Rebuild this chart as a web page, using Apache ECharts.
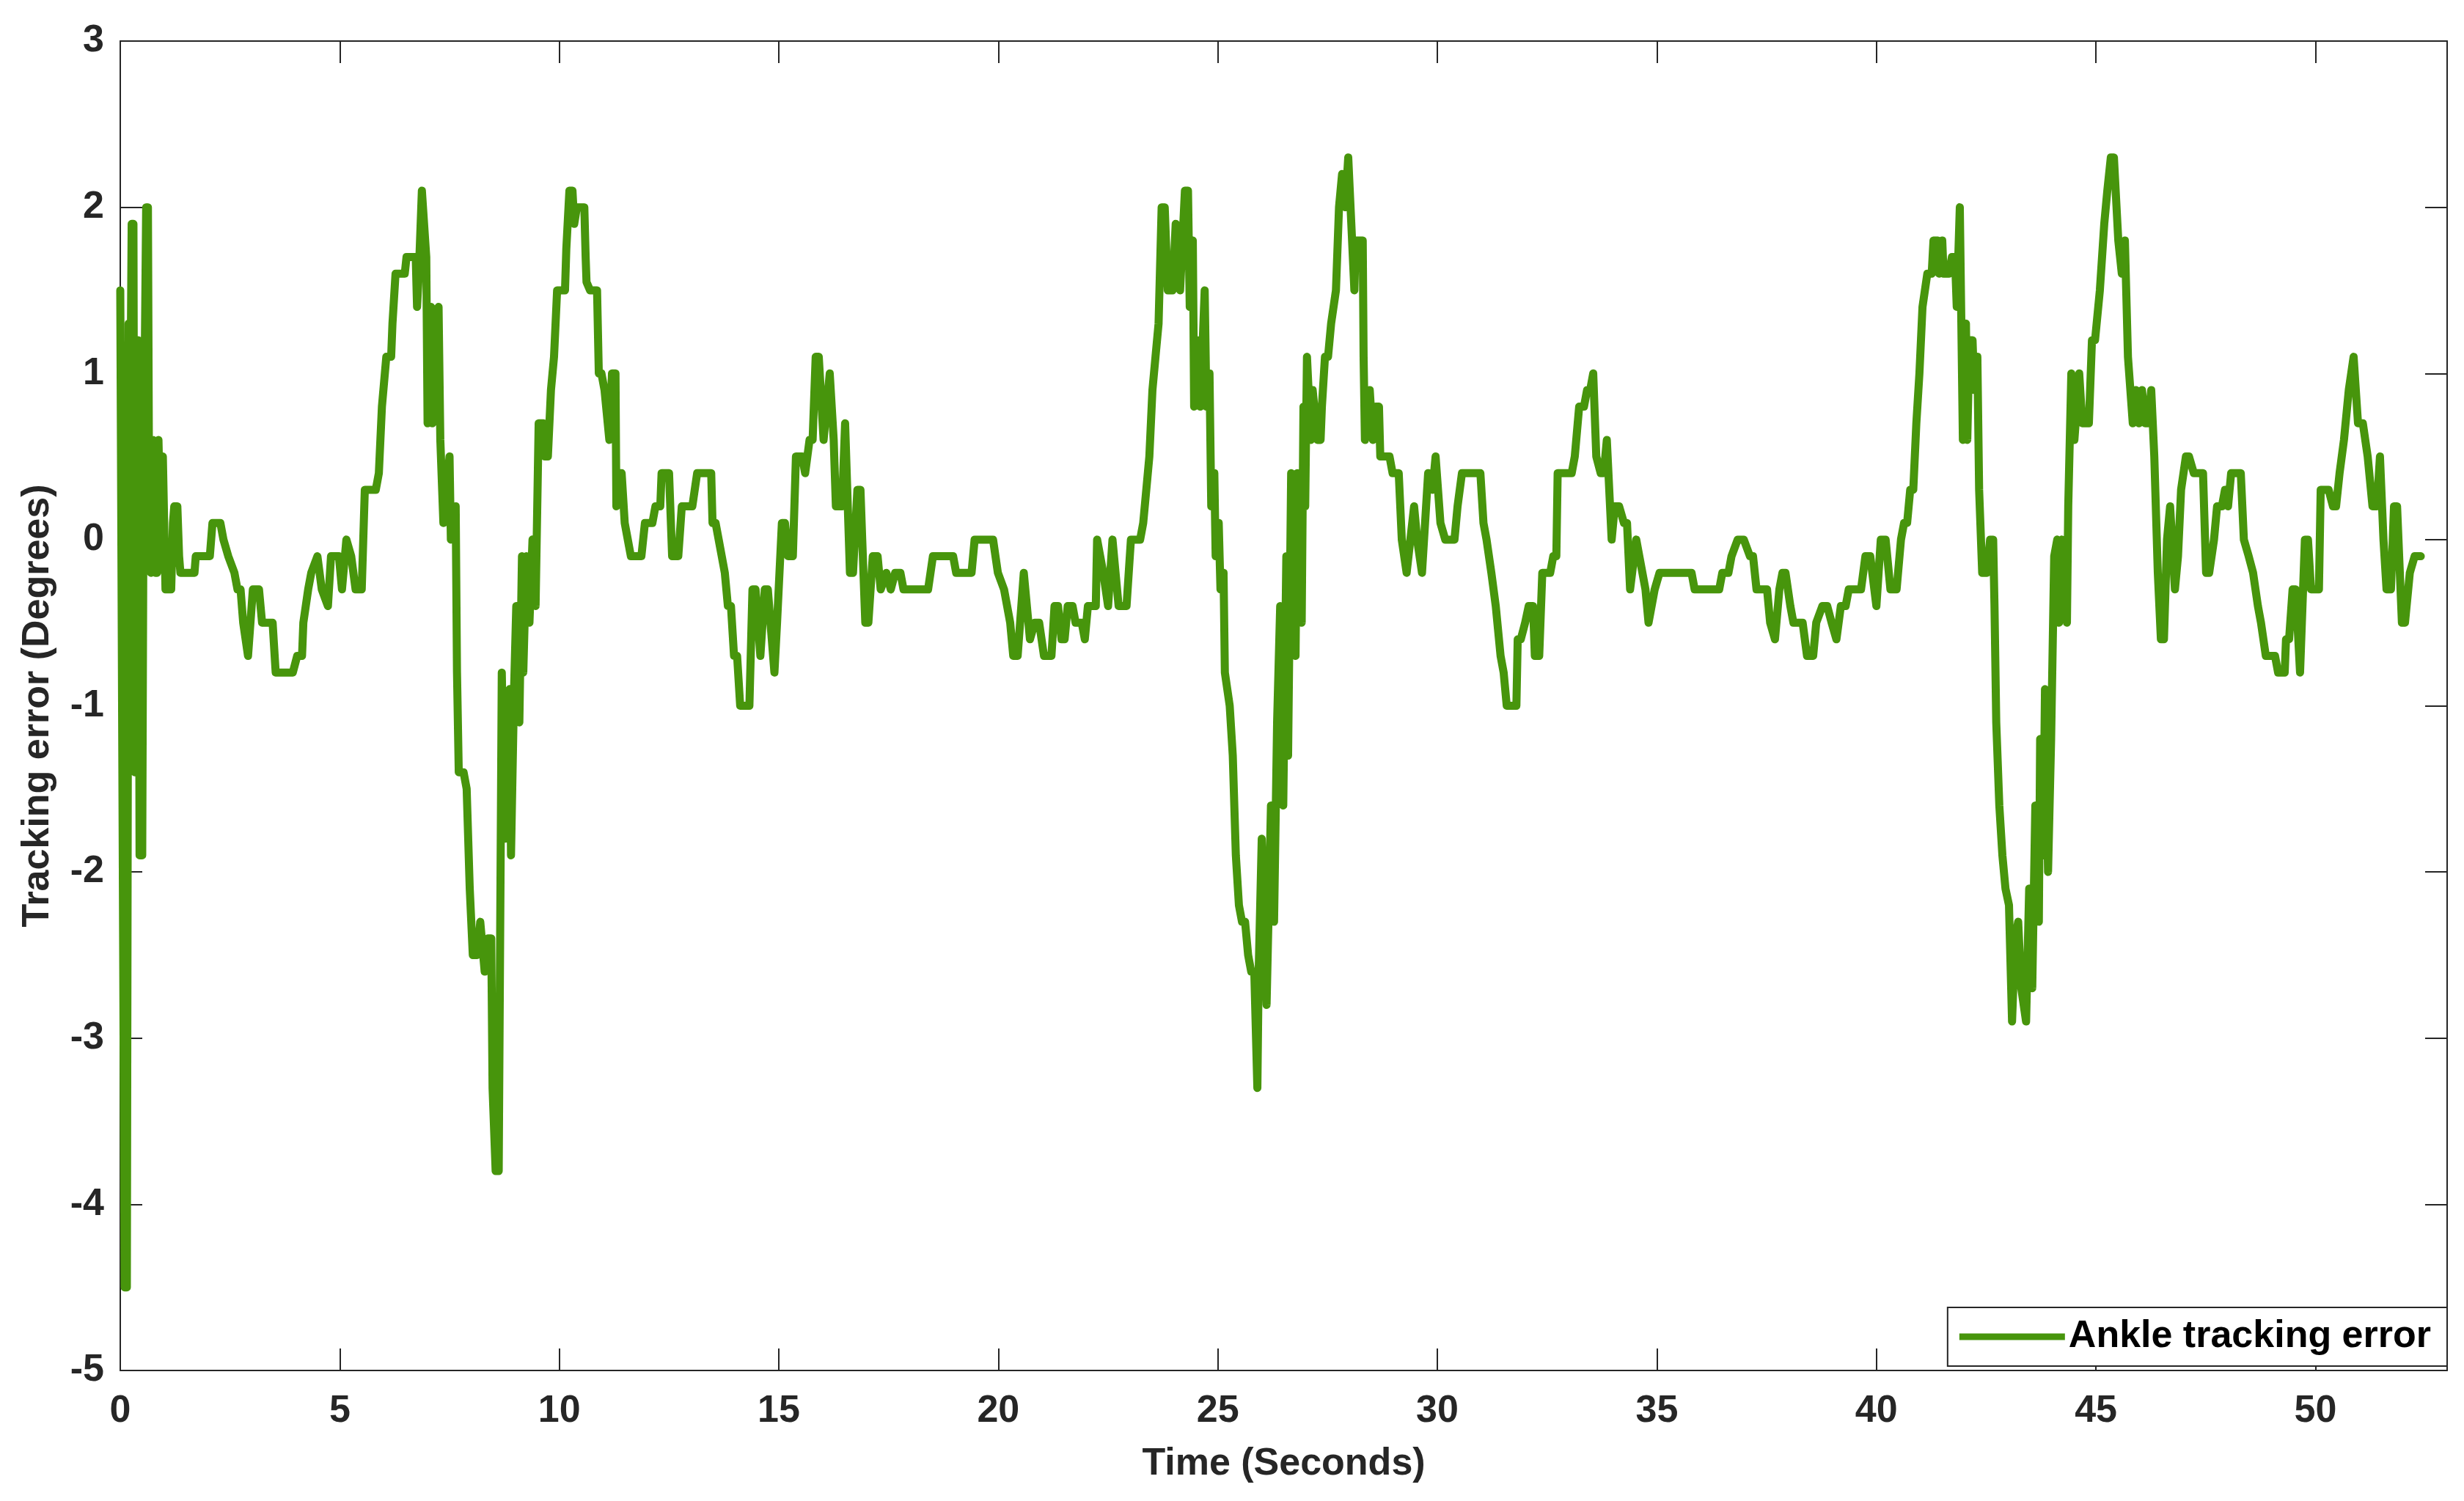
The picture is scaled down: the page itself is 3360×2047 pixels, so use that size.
<!DOCTYPE html>
<html>
<head>
<meta charset="utf-8">
<title>Ankle tracking error</title>
<script src="https://cdn.jsdelivr.net/npm/echarts@6/dist/echarts.min.js"></script>
<style>
  html, body { margin: 0; padding: 0; background: #fff; }
  #chart { width: 3360px; height: 2047px; }
</style>
</head>
<body>
<div id="chart"></div>
<script>
// time (s) and tracking error (deg)
var timeSec = [
  0, 0.03, 0.1, 0.15, 0.19, 0.22, 0.26, 0.3, 0.33, 0.37, 0.41, 0.44, 0.5, 0.53, 0.59, 0.63, 0.66, 0.7, 0.74, 0.78,
  0.8, 0.84, 0.87, 0.9, 0.93, 0.97, 1.0, 1.03, 1.16, 1.2, 1.23, 1.3, 1.34, 1.37, 1.69, 1.72, 2.04, 2.1, 2.28, 2.35,
  2.46, 2.6, 2.67, 2.74, 2.8, 2.91, 3.02, 3.16, 3.23, 3.33, 3.47, 3.54, 3.93, 4.03, 4.14, 4.17, 4.28, 4.35, 4.49, 4.59,
  4.73, 4.8, 4.98, 5.05, 5.15, 5.26, 5.36, 5.5, 5.57, 5.82, 5.89, 5.96, 6.06, 6.17, 6.2, 6.27, 6.48, 6.52, 6.73, 6.76,
  6.8, 6.87, 6.9, 6.97, 7.0, 7.08, 7.11, 7.25, 7.29, 7.36, 7.5, 7.53, 7.64, 7.67, 7.71, 7.82, 7.89, 7.96, 8.03, 8.13,
  8.2, 8.3, 8.38, 8.45, 8.48, 8.55, 8.62, 8.69, 8.76, 8.87, 8.9, 8.97, 9.02, 9.06, 9.09, 9.15, 9.18, 9.25, 9.32, 9.39,
  9.46, 9.53, 9.64, 9.67, 9.74, 9.81, 9.88, 9.95, 10.13, 10.16, 10.23, 10.3, 10.34, 10.4, 10.57, 10.6, 10.62, 10.7, 10.86, 10.9,
  10.96, 11.03, 11.14, 11.2, 11.28, 11.3, 11.35, 11.42, 11.49, 11.56, 11.63, 11.87, 11.95, 12.12, 12.19, 12.3, 12.33, 12.5, 12.57, 12.71,
  12.79, 13.03, 13.14, 13.46, 13.49, 13.56, 13.63, 13.7, 13.77, 13.84, 13.91, 13.98, 14.05, 14.12, 14.33, 14.37, 14.4, 14.47, 14.58, 14.68,
  14.75, 14.9, 14.96, 15.07, 15.14, 15.21, 15.32, 15.39, 15.53, 15.6, 15.7, 15.77, 15.84, 15.91, 16.02, 16.16, 16.25, 16.3, 16.44, 16.51,
  16.62, 16.69, 16.79, 16.86, 16.9, 16.97, 17.04, 17.14, 17.25, 17.32, 17.45, 17.55, 17.65, 17.77, 17.84, 18.4, 18.51, 18.97, 19.04, 19.39,
  19.46, 19.88, 19.99, 20.13, 20.2, 20.27, 20.34, 20.44, 20.58, 20.72, 20.83, 20.93, 21.04, 21.21, 21.28, 21.36, 21.44, 21.51, 21.58, 21.69,
  21.76, 21.9, 21.97, 22.04, 22.22, 22.25, 22.32, 22.39, 22.5, 22.6, 22.67, 22.74, 22.92, 23.02, 23.23, 23.3, 23.37, 23.44, 23.51, 23.58,
  23.65, 23.72, 23.79, 23.86, 23.97, 24.04, 24.14, 24.25, 24.32, 24.36, 24.43, 24.46, 24.57, 24.6, 24.7, 24.74, 24.81, 24.85, 24.92, 24.95,
  25.02, 25.06, 25.13, 25.16, 25.27, 25.34, 25.41, 25.48, 25.55, 25.62, 25.69, 25.76, 25.83, 25.9, 25.93, 26.0, 26.11, 26.21, 26.28, 26.35,
  26.42, 26.49, 26.56, 26.6, 26.67, 26.77, 26.81, 26.91, 26.95, 26.99, 27.03, 27.12, 27.16, 27.27, 27.34, 27.37, 27.44, 27.51, 27.58, 27.69,
  27.76, 27.83, 27.9, 27.97, 28.04, 28.11, 28.14, 28.3, 28.32, 28.35, 28.46, 28.53, 28.6, 28.67, 28.7, 28.91, 28.98, 29.12, 29.19, 29.3,
  29.47, 29.54, 29.65, 29.79, 29.89, 29.96, 30.07, 30.18, 30.39, 30.46, 30.56, 30.98, 31.05, 31.12, 31.23, 31.33, 31.44, 31.51, 31.58, 31.8,
  31.83, 31.9, 32.0, 32.08, 32.18, 32.22, 32.32, 32.39, 32.57, 32.64, 32.71, 32.74, 33.06, 33.13, 33.23, 33.34, 33.41, 33.48, 33.55, 33.62,
  33.72, 33.79, 33.86, 33.97, 34.04, 34.14, 34.25, 34.32, 34.39, 34.53, 34.6, 34.74, 34.81, 34.95, 35.06, 35.79, 35.86, 36.42, 36.49, 36.63,
  36.7, 36.84, 36.98, 37.12, 37.19, 37.27, 37.51, 37.58, 37.69, 37.79, 37.86, 37.93, 38.04, 38.11, 38.32, 38.42, 38.56, 38.63, 38.77, 38.88,
  38.98, 39.09, 39.19, 39.3, 39.37, 39.65, 39.75, 39.86, 40.0, 40.1, 40.21, 40.32, 40.46, 40.56, 40.63, 40.7, 40.77, 40.84, 40.91, 40.98,
  41.05, 41.16, 41.26, 41.3, 41.4, 41.43, 41.5, 41.53, 41.65, 41.72, 41.79, 41.83, 41.9, 41.97, 42.04, 42.07, 42.12, 42.19, 42.23, 42.3,
  42.34, 42.37, 42.41, 42.52, 42.59, 42.66, 42.69, 42.73, 42.8, 42.87, 42.94, 43.02, 43.09, 43.16, 43.23, 43.3, 43.41, 43.48, 43.55, 43.62,
  43.7, 43.73, 43.8, 43.84, 43.91, 43.98, 44.05, 44.12, 44.16, 44.23, 44.34, 44.37, 44.44, 44.51, 44.62, 44.69, 44.84, 44.91, 44.98, 45.09,
  45.19, 45.26, 45.34, 45.41, 45.51, 45.59, 45.66, 45.73, 45.84, 45.91, 45.98, 46.05, 46.12, 46.19, 46.26, 46.33, 46.41, 46.48, 46.55, 46.62,
  46.69, 46.8, 46.87, 46.94, 47.05, 47.12, 47.23, 47.44, 47.51, 47.58, 47.69, 47.76, 47.87, 47.94, 48.01, 48.08, 48.3, 48.37, 48.48, 48.58,
  48.69, 48.76, 48.87, 49.08, 49.15, 49.3, 49.33, 49.4, 49.48, 49.55, 49.65, 49.76, 49.83, 49.9, 50.08, 50.12, 50.3, 50.4, 50.47, 50.55,
  50.65, 50.76, 50.87, 50.97, 51.08, 51.19, 51.3, 51.4, 51.47, 51.55, 51.62, 51.72, 51.79, 51.86, 51.97, 52.04, 52.15, 52.26, 52.4
];
var errDeg = [
  1.5, 1.5, -4.5, -4.5, 1.3, 0.4, 1.9, 1.9, -1.4, 0.6, 1.2, -1.9, -1.9, 0.3, 2.0, 2.0, 0.0, -0.2, 0.6, 0.5,
  -0.2, -0.2, 0.6, 0.6, -0.1, 0.5, 0.5, -0.3, -0.3, 0.1, 0.2, 0.2, -0.1, -0.2, -0.2, -0.1, -0.1, 0.1, 0.1, 0,
  -0.1, -0.2, -0.3, -0.3, -0.5, -0.7, -0.3, -0.3, -0.5, -0.5, -0.5, -0.8, -0.8, -0.7, -0.7, -0.5, -0.3, -0.2, -0.1, -0.3,
  -0.4, -0.1, -0.1, -0.3, 0, -0.1, -0.3, -0.3, 0.3, 0.3, 0.4, 0.8, 1.1, 1.1, 1.3, 1.6, 1.6, 1.7, 1.7, 1.4,
  1.6, 2.1, 2.1, 1.7, 0.7, 1.4, 0.7, 1.4, 0.6, 0.1, 0.5, 0, 0.2, -0.8, -1.4, -1.4, -1.5, -2.1, -2.5, -2.5,
  -2.3, -2.6, -2.4, -2.4, -3.3, -3.8, -3.8, -0.8, -1.8, -0.9, -1.9, -0.9, -0.4, -0.4, -1.1, -0.1, -0.8, -0.1, -0.5, 0,
  -0.4, 0.7, 0.7, 0.5, 0.5, 0.9, 1.1, 1.5, 1.5, 1.75, 2.1, 2.1, 1.9, 2.0, 2.0, 1.7, 1.55, 1.5, 1.5, 1.0,
  1.0, 0.9, 0.6, 1.0, 1.0, 0.2, 0.4, 0.4, 0.1, 0, -0.1, -0.1, 0.1, 0.1, 0.2, 0.2, 0.4, 0.4, -0.1, -0.1,
  0.2, 0.2, 0.4, 0.4, 0.1, 0.1, 0, -0.1, -0.2, -0.4, -0.4, -0.7, -0.7, -1.0, -1.0, -0.6, -0.3, -0.3, -0.7, -0.3,
  -0.3, -0.8, -0.5, 0.1, 0.1, -0.1, -0.1, 0.5, 0.5, 0.4, 0.6, 0.6, 1.1, 1.1, 0.6, 1.0, 0.6, 0.2, 0.2, 0.7,
  -0.2, -0.2, 0.3, 0.3, 0, -0.5, -0.5, -0.1, -0.1, -0.3, -0.2, -0.3, -0.2, -0.2, -0.3, -0.3, -0.1, -0.1, -0.2, -0.2,
  0, 0, -0.2, -0.3, -0.4, -0.5, -0.7, -0.7, -0.2, -0.6, -0.5, -0.5, -0.7, -0.7, -0.4, -0.4, -0.6, -0.6, -0.4, -0.4,
  -0.5, -0.5, -0.6, -0.4, -0.4, 0, -0.1, -0.2, -0.4, 0, -0.2, -0.4, -0.4, 0, 0, 0.1, 0.3, 0.5, 0.9, 1.1,
  1.3, 2.0, 2.0, 1.5, 1.5, 1.9, 1.5, 2.1, 2.1, 1.4, 1.8, 0.8, 1.2, 0.8, 1.5, 0.8, 1.0, 0.2, 0.4, -0.1,
  0.1, -0.3, -0.2, -0.8, -1.0, -1.3, -1.9, -2.2, -2.3, -2.3, -2.5, -2.6, -2.6, -3.3, -2.6, -1.8, -2.8, -1.6, -2.3, -1.1,
  -0.4, -1.6, -0.1, -1.3, 0.4, -0.7, 0.4, -0.5, 0.8, 0.2, 1.1, 0.6, 0.9, 0.6, 0.6, 0.8, 1.1, 1.1, 1.3, 1.5,
  2.0, 2.2, 2.0, 2.3, 1.9, 1.5, 1.8, 1.8, 1.1, 0.6, 0.9, 0.6, 0.8, 0.8, 0.5, 0.5, 0.4, 0.4, 0, -0.2,
  0.2, 0, -0.2, 0.4, 0.3, 0.5, 0.1, 0, 0, 0.2, 0.4, 0.4, 0.1, 0, -0.2, -0.4, -0.7, -0.8, -1.0, -1.0,
  -0.6, -0.6, -0.5, -0.4, -0.4, -0.7, -0.7, -0.2, -0.2, -0.1, -0.1, 0.4, 0.4, 0.5, 0.8, 0.8, 0.9, 0.9, 1.0, 0.5,
  0.4, 0.4, 0.6, 0, 0.2, 0.2, 0.1, 0.1, -0.3, 0, -0.1, -0.3, -0.5, -0.3, -0.2, -0.2, -0.3, -0.3, -0.2, -0.2,
  -0.1, 0, 0, -0.1, -0.1, -0.3, -0.3, -0.5, -0.6, -0.3, -0.2, -0.2, -0.4, -0.5, -0.5, -0.7, -0.7, -0.5, -0.4, -0.4,
  -0.5, -0.6, -0.4, -0.4, -0.3, -0.3, -0.1, -0.1, -0.4, 0, 0, -0.3, -0.3, 0, 0.1, 0.1, 0.3, 0.3, 0.7, 1.0,
  1.4, 1.6, 1.6, 1.8, 1.8, 1.6, 1.8, 1.6, 1.6, 1.7, 1.7, 1.4, 2.0, 0.6, 1.3, 0.6, 1.2, 1.2, 0.9, 1.1,
  0.3, 0.3, -0.2, -0.2, 0, 0, -0.4, -1.1, -1.6, -1.9, -2.1, -2.2, -2.9, -2.4, -2.3, -2.7, -2.9, -2.1, -2.7, -1.6,
  -2.3, -1.2, -1.9, -0.9, -2.0, -1.2, -0.1, 0, -0.5, 0, -0.5, 0.2, 1.0, 0.6, 1.0, 0.7, 0.7, 1.2, 1.2, 1.5,
  1.9, 2.1, 2.3, 2.3, 1.8, 1.6, 1.8, 1.1, 0.7, 0.9, 0.7, 0.9, 0.7, 0.7, 0.9, 0.5, -0.2, -0.6, -0.6, 0,
  0.2, -0.3, -0.1, 0.3, 0.5, 0.5, 0.4, 0.4, -0.2, -0.2, 0, 0.2, 0.2, 0.3, 0.2, 0.4, 0.4, 0, -0.1, -0.2,
  -0.4, -0.5, -0.7, -0.7, -0.8, -0.8, -0.6, -0.6, -0.3, -0.3, -0.8, 0, 0, -0.3, -0.3, 0.3, 0.3, 0.2, 0.2, 0.4,
  0.6, 0.9, 1.1, 0.7, 0.7, 0.5, 0.2, 0.2, 0.5, 0, -0.3, -0.3, 0.2, 0.2, -0.5, -0.5, -0.2, -0.1, -0.1
];
var xTicks = { min: 0, max: 53, step: 5 };
var yTicks = { min: -5, max: 3, step: 1 };

var font = "'Liberation Sans', Arial, sans-serif";
var axisColor = "#262626";

var points = timeSec.map(function (t, i) { return [t, errDeg[i]]; });

function axisBase(pos, showLabel, ticks) {
  return {
    type: "value",
    position: pos,
    min: ticks.min,
    max: ticks.max,
    interval: ticks.step,
    splitLine: { show: false },
    axisLine: { show: true, onZero: false, lineStyle: { color: axisColor, width: 2 } },
    axisTick: { show: true, inside: true, length: 30, lineStyle: { color: axisColor, width: 2 } },
    axisLabel: {
      show: showLabel,
      showMaxLabel: ticks.max % ticks.step === 0,
      color: axisColor,
      fontFamily: font,
      fontWeight: "bold",
      fontSize: 52
    }
  };
}

var chart = echarts.init(document.getElementById("chart"));

var xBottom = axisBase("bottom", true, xTicks);
xBottom.axisLabel.margin = 30;
xBottom.name = "Time (Seconds)";
xBottom.nameLocation = "middle";
xBottom.nameGap = 102;
xBottom.nameTextStyle = { color: axisColor, fontFamily: font, fontWeight: "bold", fontSize: 52 };

var xTop = axisBase("top", false, xTicks);

var yLeft = axisBase("left", true, yTicks);
yLeft.axisLabel.margin = 22;
yLeft.name = "Tracking error (Degrees)";
yLeft.nameLocation = "middle";
yLeft.nameGap = 86;
yLeft.nameTextStyle = { color: axisColor, fontFamily: font, fontWeight: "bold", fontSize: 52 };

var yRight = axisBase("right", false, yTicks);

var option = {
  animation: false,
  backgroundColor: "#ffffff",
  grid: { left: 164, right: 23, top: 56, bottom: 178, containLabel: false },
  xAxis: [xBottom, xTop],
  yAxis: [yLeft, yRight],
  legend: {
    right: 23,
    top: 1783,
    orient: "horizontal",
    icon: "rect",
    itemWidth: 144,
    itemHeight: 9,
    itemGap: 10,
    padding: [14, 22, 14, 16],
    backgroundColor: "#ffffff",
    borderColor: axisColor,
    borderWidth: 2,
    borderRadius: 0,
    textStyle: { color: "#000000", fontFamily: font, fontWeight: "bold", fontSize: 52 },
    data: ["Ankle tracking error"]
  },
  series: [
    {
      name: "Ankle tracking error",
      type: "line",
      xAxisIndex: 0,
      yAxisIndex: 0,
      data: points,
      showSymbol: false,
      symbol: "none",
      color: "#47950c",
      lineStyle: { color: "#47950c", width: 11, cap: "round", join: "round" }
    }
  ]
};
chart.setOption(option, true);
</script>
</body>
</html>
